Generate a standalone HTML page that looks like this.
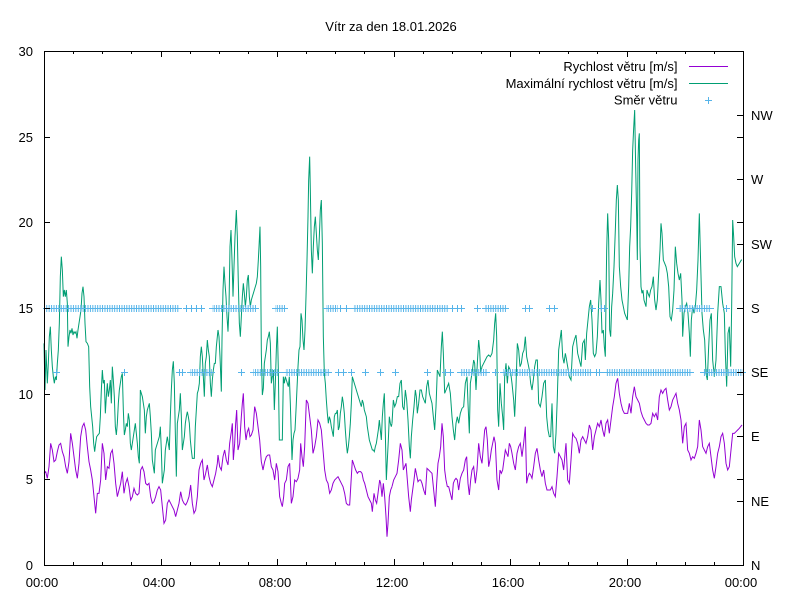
<!DOCTYPE html>
<html><head><meta charset="utf-8"><style>
html,body{margin:0;padding:0;background:#fff;}
svg{display:block;}
text{font-family:"Liberation Sans",Arial,sans-serif;font-size:13px;fill:#000;}
</style></head><body>
<svg width="800" height="600" viewBox="0 0 800 600" xmlns="http://www.w3.org/2000/svg">
<defs>
<pattern id="pv" patternUnits="userSpaceOnUse" x="43.8" y="0" width="2.427" height="600"><rect x="0" y="0" width="1" height="600" fill="#56b4e9"/></pattern>
</defs>
<rect width="800" height="600" fill="#fff"/>
<text x="391" y="31" text-anchor="middle">Vítr za den 18.01.2026</text>

<!-- purple series -->
<g fill="none" stroke="#9400d3" stroke-width="1">
<g transform="translate(44 150) scale(0.333333)"><polyline vector-effect="non-scaling-stroke" points="0,970 5,965 10,985 15,950 20,880 25,900 30,935 35,930 40,905 45,885 50,880 55,905 60,920 65,950 70,970 75,935 80,850 85,880 90,920 95,960 100,985 105,940 110,860 115,830 120,820 125,840 130,890 135,935 140,960 145,990 150,1040 155,1090 160,1030 165,1030 170,990 175,880 180,910 185,990 190,950 195,955 200,910 205,900 210,940 215,1000 220,1040 225,1020 230,1000 235,965 240,1030 245,1000 250,985 255,1010 260,1050 265,1040 270,1015 275,1030 280,1035 285,1030 290,960 295,950 300,965 305,1000 310,1005 315,1000 320,1040 325,1060 330,1055 335,1040 340,1020 345,1010 350,1020 355,1070 360,1120 365,1110 370,1060 375,1050 380,1060 385,1070 390,1080 395,1100 400,1080 405,1060 410,1025 415,1050 420,1060 425,1065 430,1055 435,1040 440,1005 445,1060 450,1090 455,1080 460,1040 465,960 470,940 475,930 480,990 485,970 490,945 495,980 500,1000 505,1010 510,990 515,970 520,940 522,915"/></g>
<g transform="translate(218 150) scale(0.333333)"><polyline vector-effect="non-scaling-stroke" points="0,915 5,950 10,960 15,920 20,900 25,930 30,945 35,880 40,845 43,820 46,930 50,880 53,820 56,780 60,900 65,880 70,800 73,760 76,730 80,830 84,870 88,845 92,835 96,860 100,855 105,840 110,770 115,790 120,830 125,870 130,935 135,960 140,935 145,920 150,915 155,915 160,950 165,960 170,990 175,940 180,965 185,1040 190,1060 193,1070 197,1040 200,1000 205,990 210,950 215,940 220,1060 225,1040 230,990 235,995 240,985 245,960 248,880 252,920 256,950 260,890 265,750 270,760 275,800 280,840 285,910 290,890 295,860 300,810 305,820 310,840 315,900 320,960 325,990 330,1000 335,1030 340,1020 345,1000 350,990 355,985 360,980 365,990 370,1000 375,1010 380,1030 385,1060 390,1065 395,1065 400,980 403,930 408,945 413,960 418,970 422,965 428,965 432,970 436,990 440,1000 445,1020 450,1040 455,1050 460,1060 463,1085 468,1030 472,1050 476,1060 480,1030 485,990 488,1000 492,1040 496,1000 500,1040 504,1100 507,1160 510,1120 514,1040 518,1020 522,1010"/></g>
<g transform="translate(392 150) scale(0.333333)"><polyline vector-effect="non-scaling-stroke" points="0,1010 5,990 10,980 15,970 20,930 25,880 30,900 34,960 38,950 42,940 46,990 50,1040 55,1085 58,1050 62,1020 66,990 70,955 74,975 78,995 82,990 86,990 90,1000 95,1020 100,1035 105,955 110,960 115,965 120,970 125,1020 130,1070 134,1000 138,940 142,920 146,890 150,820 154,860 158,960 162,990 166,1010 170,1010 175,1030 180,1050 184,1000 188,990 192,985 196,990 200,1020 205,985 210,970 215,960 220,930 224,920 228,1000 232,1035 236,990 240,960 245,950 250,1000 255,960 260,880 265,920 270,940 274,890 278,840 282,830 286,870 290,950 294,930 298,900 302,880 306,860 310,880 315,990 320,1020 324,960 328,970 332,960 336,930 340,900 344,910 348,920 352,880 356,890 360,910 365,940 370,960 375,910 380,890 385,880 390,920 395,880 400,830 404,1000 408,980 412,970 416,975 420,985 425,950 430,910 435,895 440,930 445,960 450,980 455,960 460,1000 465,1020 470,1020 475,1020 480,1010 485,1030 490,1040 495,980 500,910 505,920 510,930 515,960 520,900 522,880"/></g>
<g transform="translate(566 100) scale(0.333333)"><polyline vector-effect="non-scaling-stroke" points="0,1030 5,1140 10,1150 15,1080 20,1000 25,1010 30,1015 35,1030 40,1060 45,1020 50,1010 55,1020 60,1030 65,1010 70,975 75,990 80,1050 85,1010 90,990 95,970 100,980 105,960 110,990 115,1010 120,970 125,960 130,1000 135,960 140,920 145,890 150,850 155,835 160,880 165,910 170,930 175,940 180,940 185,940 190,910 195,940 200,890 205,860 210,890 215,900 220,910 225,935 230,950 235,960 240,970 245,975 250,975 255,970 260,940 265,950 270,940 275,960 280,890 285,870 290,880 295,870 300,865 305,900 310,930 315,920 320,900 325,890 330,880 335,910 340,930 345,960 350,1030 355,980 360,970 365,1050 370,1060 375,1080 380,1070 385,1075 390,1060 395,1040 400,960 405,990 410,1040 415,1050 420,1060 425,1040 430,1030 435,1070 440,1110 445,1135 450,1100 455,1060 460,1040 465,1010 470,1000 475,1030 480,1090 485,1110 490,1100 495,1050 500,1000 505,1000 510,995 515,990 520,985 528,975"/></g>
</g>

<!-- green series -->
<g fill="none" stroke="#009e73" stroke-width="1">
<g transform="translate(44 150) scale(0.333333)"><polyline vector-effect="non-scaling-stroke" points="0,580 3,720 6,600 10,700 13,640 16,560 19,530 22,600 25,650 28,680 31,700 34,680 37,690 40,640 43,600 46,520 49,380 52,320 55,360 58,440 61,420 64,440 67,420 70,460 72,590 75,560 78,540 81,550 84,535 87,555 90,545 93,550 96,545 99,565 102,540 105,520 108,500 111,480 114,430 117,410 120,440 123,520 126,575 130,580 134,590 137,710 140,770 143,800 146,830 149,880 152,905 155,880 158,860 162,855 166,850 169,800 172,720 175,660 178,700 181,690 184,790 187,740 190,700 193,740 196,720 199,690 202,760 205,650 208,690 211,740 214,830 217,855 220,820 223,760 226,720 229,700 232,680 235,670 238,780 241,855 244,840 247,820 250,830 253,790 256,810 259,880 262,900 265,880 268,860 271,840 274,820 277,850 280,880 283,920 286,940 289,720 292,730 295,740 298,760 301,780 304,850 307,800 310,780 313,770 316,760 319,800 322,850 325,930 328,950 331,970 334,900 337,890 340,880 343,870 346,860 349,830 352,900 355,1000 358,980 361,960 364,900 367,880 370,860 373,880 376,900 379,800 382,720 385,660 388,634 391,700 394,850 397,980 400,820 403,800 406,780 409,730 412,800 415,900 418,880 421,860 424,820 427,800 430,785 433,800 436,820 439,870 442,900 445,925 448,925 451,925 454,830 457,780 460,730 463,720 466,700 469,620 472,590 475,620 478,680 481,740 484,640 487,620 490,570 493,600 496,620 499,700 502,740 505,690 508,660 511,640 514,640 517,590 520,560 522,540"/></g>
<g transform="translate(218 150) scale(0.333333)"><polyline vector-effect="non-scaling-stroke" points="0,540 3,560 6,620 8,670 10,725 12,570 15,420 18,350 21,400 24,440 27,500 30,545 33,470 36,290 39,240 42,330 45,440 48,350 51,260 54,200 55,180 58,260 61,400 64,520 67,560 70,500 73,440 76,400 79,430 82,470 85,440 88,390 91,375 94,440 97,470 100,450 103,440 106,430 109,420 112,410 115,400 118,380 121,330 124,270 126,230 128,350 130,610 133,735 136,715 139,640 142,620 145,600 148,570 151,560 154,545 157,580 160,700 163,680 166,660 169,780 172,700 175,600 178,530 181,660 184,870 187,870 190,870 193,870 196,680 199,700 202,680 205,690 208,700 211,710 214,680 217,760 220,860 222,930 225,870 228,850 231,840 234,780 237,715 240,650 243,600 246,590 249,490 252,510 255,570 258,600 261,540 264,440 267,330 270,200 272,90 275,20 277,120 280,300 283,370 286,290 289,230 292,200 295,250 298,300 301,330 304,260 307,180 310,150 313,280 316,560 319,670 322,700 325,750 328,790 331,820 334,800 337,810 340,830 343,845 346,860 349,800 352,790 355,790 358,780 361,840 364,830 367,790 370,770 373,740 376,760 379,790 382,840 385,880 388,910 391,890 394,860 397,820 400,760 403,680 406,690 409,700 412,710 415,720 418,730 421,740 424,750 427,760 430,770 433,750 436,760 439,780 442,790 445,800 448,830 451,850 454,870 457,880 460,890 463,900 466,900 469,905 472,890 475,880 478,860 481,840 484,810 487,840 490,870 493,800 496,760 499,730 502,850 505,990 508,930 511,870 514,800 517,820 520,830 522,820"/></g>
<g transform="translate(392 150) scale(0.333333)"><polyline vector-effect="non-scaling-stroke" points="0,820 4,750 8,770 12,760 16,740 20,740 24,700 28,690 32,770 36,780 40,720 44,750 48,810 52,890 55,925 58,860 62,810 66,770 70,720 73,740 76,790 80,760 84,720 88,720 92,740 96,750 100,760 104,710 108,690 112,730 116,745 120,760 124,800 128,840 132,770 136,660 140,670 144,680 148,590 151,545 154,610 158,730 162,720 166,710 170,700 175,730 180,800 184,840 188,870 192,820 196,800 200,820 205,790 210,775 215,770 220,700 225,680 228,760 232,850 235,700 240,670 245,630 248,640 252,720 256,640 260,570 263,600 266,670 270,650 275,640 280,630 285,620 290,615 295,620 300,610 305,570 308,520 311,490 314,560 317,780 320,830 324,700 328,760 332,800 335,840 338,680 342,640 346,700 350,650 355,660 360,700 365,750 368,800 372,710 376,580 380,600 384,650 388,640 392,610 396,600 400,560 404,620 408,640 412,660 416,700 420,720 424,690 428,650 432,630 436,630 440,760 445,770 450,740 455,700 460,690 464,800 468,840 472,860 476,860 480,760 484,890 488,910 492,850 496,740 500,600 504,570 508,540 512,620 516,640 520,610 522,620"/></g>
<g transform="translate(566 100) scale(0.333333)"><polyline vector-effect="non-scaling-stroke" points="0,770 5,800 10,830 15,840 20,740 25,720 30,705 35,760 40,780 45,800 50,730 55,720 58,780 62,700 66,660 70,620 74,600 78,660 82,760 86,770 90,760 94,710 98,610 102,540 105,600 108,700 112,690 115,740 118,770 120,600 122,450 125,340 128,420 131,690 134,710 137,620 140,580 144,500 148,390 151,300 154,255 157,300 160,500 164,560 168,600 172,620 176,640 180,650 184,660 188,560 191,440 194,380 197,280 200,150 203,85 206,30 209,200 212,350 214,480 216,180 218,120 220,100 222,440 225,560 228,580 231,570 234,600 237,610 240,620 243,570 246,580 250,590 254,570 258,560 262,530 266,600 270,630 274,600 278,520 282,450 285,370 288,400 292,480 296,490 300,500 304,520 308,560 312,650 316,660 320,630 324,570 328,440 332,490 336,520 340,540 344,520 348,600 350,710 354,640 358,620 362,610 366,640 370,700 373,770 376,660 380,620 384,640 388,620 392,570 396,480 400,340 404,490 408,640 412,690 416,720 420,820 424,840 428,740 432,660 436,640 440,780 445,830 450,780 455,640 460,560 465,560 470,610 475,640 478,760 482,860 486,700 490,680 494,800 497,620 500,360 503,410 506,470 510,490 514,500 520,490 526,480 528,480"/></g>
</g>

<!-- direction points -->
<g fill="url(#pv)">
<rect x="46" y="305" width="133" height="7"/>
<rect x="212" y="305" width="44" height="7"/>
<rect x="275" y="305" width="10" height="7"/>
<rect x="326" y="305" width="12" height="7"/>
<rect x="353" y="305" width="95" height="7"/>
<rect x="485" y="305" width="21" height="7"/>
<rect x="679" y="305" width="32" height="7"/>
<rect x="190" y="369" width="22" height="7"/>
<rect x="253" y="369" width="26" height="7"/>
<rect x="285" y="369" width="44" height="7"/>
<rect x="460" y="369" width="27" height="7"/>
<rect x="503" y="369" width="88" height="7"/>
<rect x="606" y="369" width="85" height="7"/>
<rect x="703" y="369" width="40" height="7"/>
</g>
<g fill="#56b4e9">
<rect x="43" y="308" width="139" height="1"/>
<rect x="209" y="308" width="50" height="1"/>
<rect x="272" y="308" width="16" height="1"/>
<rect x="323" y="308" width="18" height="1"/>
<rect x="350" y="308" width="101" height="1"/>
<rect x="482" y="308" width="27" height="1"/>
<rect x="676" y="308" width="38" height="1"/>
<rect x="187" y="372" width="28" height="1"/>
<rect x="250" y="372" width="32" height="1"/>
<rect x="282" y="372" width="50" height="1"/>
<rect x="457" y="372" width="33" height="1"/>
<rect x="500" y="372" width="94" height="1"/>
<rect x="603" y="372" width="91" height="1"/>
<rect x="700" y="372" width="46" height="1"/>
</g>
<path fill="none" stroke="#56b4e9" stroke-width="1" d="M183 308.5h7M186.5 305v7M188 308.5h7M191.5 305v7M193 308.5h7M196.5 305v7M198 308.5h7M201.5 305v7M337 308.5h7M340.5 305v7M343 308.5h7M346.5 305v7M449 308.5h7M452.5 305v7M454 308.5h7M457.5 305v7M458 308.5h7M461.5 305v7M474 308.5h7M477.5 305v7M522 308.5h7M525.5 305v7M526 308.5h7M529.5 305v7M546 308.5h7M549.5 305v7M551 308.5h7M554.5 305v7M589 308.5h7M592.5 305v7M598 308.5h7M601.5 305v7M601 308.5h7M604.5 305v7M723 308.5h7M726.5 305v7
M53 372.5h7M56.5 369v7M121 372.5h7M124.5 369v7M176 372.5h7M179.5 369v7M179 372.5h7M182.5 369v7M238 372.5h7M241.5 369v7M335 372.5h7M338.5 369v7M340 372.5h7M343.5 369v7M348 372.5h7M351.5 369v7M362 372.5h7M365.5 369v7M377 372.5h7M380.5 369v7M392 372.5h7M395.5 369v7M424 372.5h7M427.5 369v7M442 372.5h7M445.5 369v7M447 372.5h7M450.5 369v7M492 372.5h7M495.5 369v7M593 372.5h7M596.5 369v7M596 372.5h7M599.5 369v7"/>

<!-- border -->
<rect x="44.5" y="51.5" width="699" height="514" fill="none" stroke="#000" stroke-width="1"/>

<!-- ticks -->
<path fill="none" stroke="#000" stroke-width="1" d="
M44 565.5h6M44 479.5h6M44 394.5h6M44 308.5h6M44 222.5h6M44 137.5h6M44 51.5h6
M743 565.5h-6M743 479.5h-6M743 394.5h-6M743 308.5h-6M743 222.5h-6M743 137.5h-6M743 51.5h-6
M743 501.5h-6M743 436.5h-6M743 372.5h-6M743 244.5h-6M743 179.5h-6M743 115.5h-6
M44.5 565v-6M161.5 565v-6M277.5 565v-6M394.5 565v-6M510.5 565v-6M627.5 565v-6M743.5 565v-6
M44.5 51v6M161.5 51v6M277.5 51v6M394.5 51v6M510.5 51v6M627.5 51v6M743.5 51v6
M73.5 565v-3M102.5 565v-3M131.5 565v-3M190.5 565v-3M219.5 565v-3M248.5 565v-3M306.5 565v-3M335.5 565v-3M364.5 565v-3M423.5 565v-3M452.5 565v-3M481.5 565v-3M539.5 565v-3M568.5 565v-3M597.5 565v-3M656.5 565v-3M685.5 565v-3M714.5 565v-3
M73.5 51v3M102.5 51v3M131.5 51v3M190.5 51v3M219.5 51v3M248.5 51v3M306.5 51v3M335.5 51v3M364.5 51v3M423.5 51v3M452.5 51v3M481.5 51v3M539.5 51v3M568.5 51v3M597.5 51v3M656.5 51v3M685.5 51v3M714.5 51v3"/>

<!-- y1 labels -->
<g text-anchor="end">
<text x="33" y="570">0</text>
<text x="33" y="484">5</text>
<text x="33" y="399">10</text>
<text x="33" y="313">15</text>
<text x="33" y="227">20</text>
<text x="33" y="142">25</text>
<text x="33" y="56">30</text>
</g>
<!-- y2 labels -->
<g>
<text x="751" y="570">N</text>
<text x="751" y="506">NE</text>
<text x="751" y="441">E</text>
<text x="751" y="377">SE</text>
<text x="751" y="313">S</text>
<text x="751" y="249">SW</text>
<text x="751" y="184">W</text>
<text x="751" y="120">NW</text>
</g>
<!-- x labels -->
<g text-anchor="middle">
<text x="42" y="587">00:00</text>
<text x="159" y="587">04:00</text>
<text x="275" y="587">08:00</text>
<text x="392" y="587">12:00</text>
<text x="508" y="587">16:00</text>
<text x="625" y="587">20:00</text>
<text x="741" y="587">00:00</text>
</g>

<!-- legend -->
<g text-anchor="end">
<text x="677.5" y="71">Rychlost větru [m/s]</text>
<text x="677.5" y="88">Maximální rychlost větru [m/s]</text>
<text x="677.5" y="104.5">Směr větru</text>
</g>
<path d="M689 66.5h39" stroke="#9400d3" stroke-width="1"/>
<path d="M689 83.5h39" stroke="#009e73" stroke-width="1"/>
<path d="M705 100.5h7M708.5 97v7" stroke="#56b4e9" stroke-width="1" fill="none"/>
</svg>
</body></html>
